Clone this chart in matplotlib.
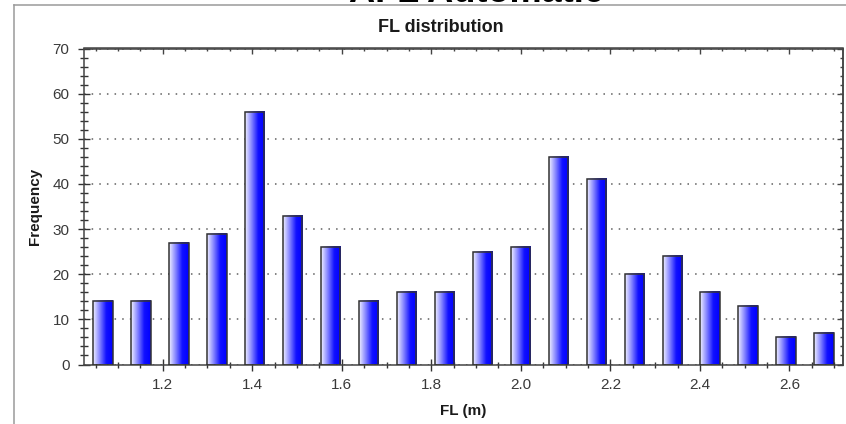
import numpy as np
import matplotlib
matplotlib.use("Agg")
import matplotlib.pyplot as plt
from matplotlib.colors import LinearSegmentedColormap
from matplotlib.lines import Line2D
from matplotlib.ticker import MultipleLocator, FormatStrFormatter

plt.rcParams["font.family"] = ["Liberation Sans", "DejaVu Sans"]

# histogram of FL values (20 bins between the min and max FL)
fl_min = 1.0243
fl_max = 2.7195
n_bins = 20
frequency = [14, 14, 27, 29, 56, 33, 26, 14, 16, 16,
             25, 26, 46, 41, 20, 24, 16, 13, 6, 7]

edges = np.linspace(fl_min, fl_max, n_bins + 1)
centers = (edges[:-1] + edges[1:]) / 2
bin_w = edges[1] - edges[0]

W, H = 846, 424
fig = plt.figure(figsize=(W / 100, H / 100), dpi=100)
ax = fig.add_axes([84 / W, 1 - 364.5 / H, (843 - 84) / W, (364.5 - 48.5) / H])

# frame of the report page
fig.add_artist(Line2D([14 / W, 1], [1 - 5 / H, 1 - 5 / H], transform=fig.transFigure,
                      color="#9a9a9a", lw=1.1))
fig.add_artist(Line2D([14 / W, 14 / W], [0, 1 - 5 / H], transform=fig.transFigure,
                      color="#9a9a9a", lw=1.1))

# cut-off page heading above the chart
fig.text(476 / W, 1 - 1.5 / H, "AFL Automatic", fontsize=26, fontweight="bold",
         ha="center", va="baseline", color="black")

# bars with a white -> blue gradient
cmap = LinearSegmentedColormap.from_list("wb", ["#f2f2ff", "#8585ff", "#1010ff", "#0000ff"])
grad = np.linspace(0, 1, 256).reshape(1, -1)

bars = ax.bar(centers, frequency, width=bin_w * 0.51, facecolor="none",
              edgecolor="#333333", linewidth=1.1, zorder=3)
for b in bars:
    x0, w, h = b.get_x(), b.get_width(), b.get_height()
    ax.imshow(grad, cmap=cmap, extent=[x0, x0 + w, 0, h], aspect="auto",
              interpolation="bicubic", zorder=2)

ax.set_xlim(fl_min, fl_max)
ax.set_ylim(0, 70)

ax.yaxis.grid(True, which="major", linestyle=(0, (1, 4)), color="#606060", lw=1.1, zorder=0)
ax.set_axisbelow(True)

ax.xaxis.set_major_locator(MultipleLocator(0.2))
ax.xaxis.set_minor_locator(MultipleLocator(0.05))
ax.xaxis.set_major_formatter(FormatStrFormatter("%.1f"))
ax.yaxis.set_major_locator(MultipleLocator(10))
ax.yaxis.set_minor_locator(MultipleLocator(2))

ax.tick_params(which="both", direction="inout", colors="#333333", labelcolor="#3a3a3a",
               labelsize=11, width=1.0)
ax.tick_params(axis="x", which="major", length=9, pad=5)
ax.tick_params(axis="x", which="minor", length=4)
ax.tick_params(axis="y", which="major", length=9, pad=6)
ax.tick_params(axis="y", which="minor", length=6)

for s in ax.spines.values():
    s.set_color("#444444")
    s.set_linewidth(1.1)

# inward ticks on top and right
top = ax.secondary_xaxis("top")
top.xaxis.set_major_locator(MultipleLocator(0.2))
top.xaxis.set_minor_locator(MultipleLocator(0.05))
top.tick_params(which="both", direction="in", labeltop=False, colors="#444444", width=1.0)
top.tick_params(which="major", length=4)
top.tick_params(which="minor", length=2.5)
right = ax.secondary_yaxis("right")
right.yaxis.set_major_locator(MultipleLocator(10))
right.yaxis.set_minor_locator(MultipleLocator(2))
right.tick_params(which="both", direction="in", labelright=False, colors="#444444", width=1.0)
right.tick_params(which="major", length=4)
right.tick_params(which="minor", length=2.5)
for sa in (top, right):
    for s in sa.spines.values():
        s.set_color("#444444")
        s.set_linewidth(1.1)

fig.text(441 / W, 1 - 31.5 / H, "FL distribution", fontsize=13, fontweight="bold",
         ha="center", va="baseline", color="#1a1a1a")
fig.text(463 / W, 1 - 414.5 / H, "FL (m)", fontsize=11, fontweight="bold",
         ha="center", va="baseline", color="#1a1a1a")
fig.text(35 / W, 1 - 206 / H, "Frequency", fontsize=11, fontweight="bold",
         rotation=90, ha="center", va="center", color="#1a1a1a")

fig.savefig("out.png", dpi=100)
